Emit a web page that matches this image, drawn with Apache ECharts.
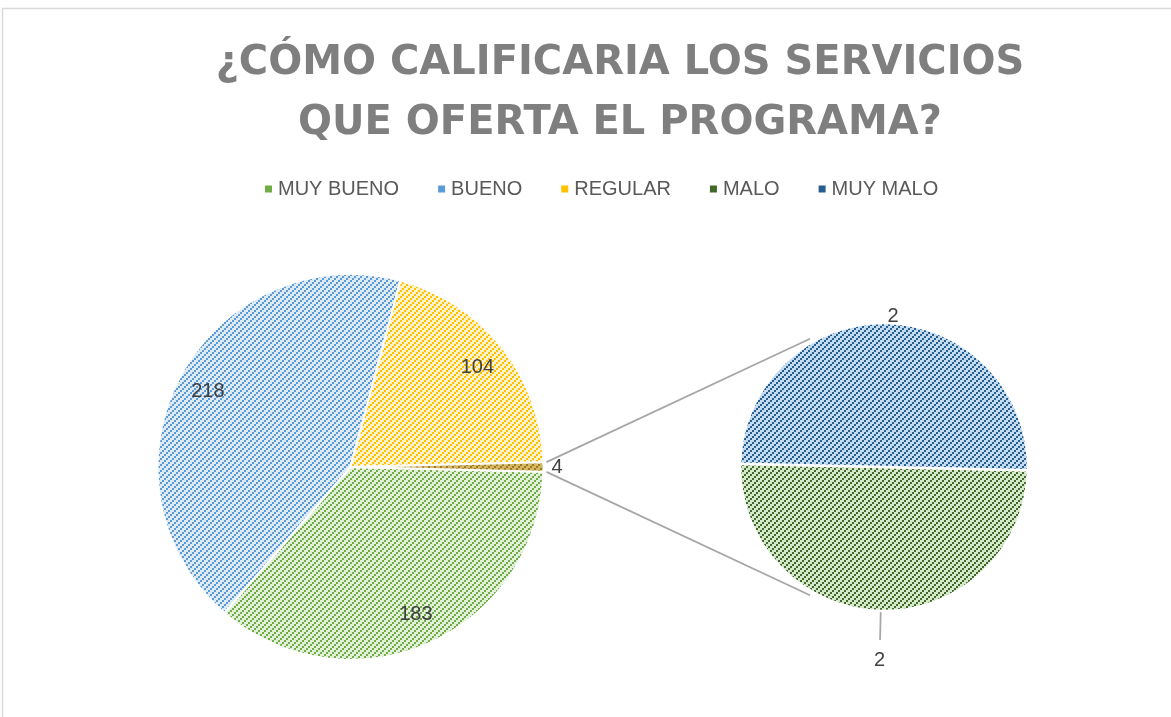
<!DOCTYPE html>
<html>
<head>
<meta charset="utf-8">
<title>Servicios del programa</title>
<script src="https://cdn.jsdelivr.net/npm/echarts@6/dist/echarts.min.js"></script>
<style>
  html, body { margin: 0; padding: 0; background: #fff; }
  #chart { width: 1171px; height: 717px; }
</style>
</head>
<body>
<div id="chart"></div>
<script>
// datos
var titleText = '¿CÓMO CALIFICARIA LOS SERVICIOS\nQUE OFERTA EL PROGRAMA?';
var legendNames = ['MUY BUENO', 'BUENO', 'REGULAR', 'MALO', 'MUY MALO'];
var mainNames = ['MUY BUENO', 'BUENO', 'REGULAR'];
var mainValues = [183, 218, 104];
var otherName = 'Otros';
var subNames = ['MALO', 'MUY MALO'];
var subValues = [2, 2];

// geometria
var mainCenter = [350.5, 467];
var mainR = 193;
var subCenter = [884, 467];
var subR = 144;
var subStart = -1.3;

// colores: [linea, fondo]
var fillColors = {
	'MUY BUENO': ['#70ad47', '#e2f0d9'],
	'BUENO': ['#5b9bd5', '#deebf7'],
	'REGULAR': ['#ffc000', '#fff2cc'],
	'Otros': ['#9c7a1e', '#d6b765'],
	'MALO': ['#43682b', '#d5e8c9'],
	'MUY MALO': ['#255e91', '#c5dcf0']
};

// trama diagonal tipo excel (bloques de 2x2)
function hatch(fg, bg) {
	var c = document.createElement('canvas');
	c.width = 6;
	c.height = 6;
	var ctx = c.getContext('2d');
	ctx.fillStyle = bg;
	ctx.fillRect(0, 0, 6, 6);
	ctx.fillStyle = fg;
	for (var y = 0; y < 6; y++) {
		for (var x = 0; x < 6; x++) {
			if ((Math.floor(x / 2) + Math.floor(y / 2)) % 3 === 0) ctx.fillRect(x, y, 1, 1);
		}
	}
	return { image: c, repeat: 'repeat' };
}

var fills = {};
for (var k in fillColors) fills[k] = hatch(fillColors[k][0], fillColors[k][1]);

var otherValue = 0;
for (var i = 0; i < subValues.length; i++) otherValue += subValues[i];
var total = otherValue;
for (var i = 0; i < mainValues.length; i++) total += mainValues[i];
var otherAngle = otherValue / total * 360;
var mainStart = -otherAngle / 2;

var mainData = [];
var ringData = [];
for (var i = 0; i < mainNames.length; i++) {
	mainData.push({ name: mainNames[i], value: mainValues[i], itemStyle: { color: fills[mainNames[i]] } });
	ringData.push({ name: mainNames[i], value: mainValues[i] });
}
mainData.push({
	name: otherName, value: otherValue,
	itemStyle: { color: fills[otherName] },
	label: { show: true, position: 'outside', distanceToLabelLine: 5 },
	labelLine: { show: false, length: 3, length2: 0 }
});
ringData.push({ name: otherName, value: otherValue, label: { show: false } });

var subData = [];
var subRingData = [];
for (var i = 0; i < subNames.length; i++) {
	subData.push({ name: subNames[i], value: subValues[i], itemStyle: { color: fills[subNames[i]] } });
	subRingData.push({ name: subNames[i], value: subValues[i] });
}
// MUY MALO arriba, pegado al borde
subData[0].label = { show: false };
subData[1].label = { show: true, position: 'outside', distanceToLabelLine: 0 };
subData[1].labelLine = { show: false, length: 7, length2: 0 };
// MALO abajo, debajo de la linea guia
subRingData[1].label = { show: false };

var legendData = [];
for (var i = 0; i < legendNames.length; i++) {
	legendData.push({ name: legendNames[i], itemStyle: { color: fillColors[legendNames[i]][0] } });
}

function pt(c, r, deg) {
	var a = deg * Math.PI / 180;
	return [c[0] + r * Math.cos(a), c[1] + r * Math.sin(a)];
}
// lineas de union entre las dos tortas
var half = otherAngle / 2;
var p1 = pt(mainCenter, mainR + 3, -half);
var p2 = pt(subCenter, subR + 4, 240);
var p3 = pt(mainCenter, mainR + 3, half);
var p4 = pt(subCenter, subR + 4, 120);
// linea guia de MALO (angulo medio del primer sector)
var subTotal = subValues[0] + subValues[1];
var maloMid = -subStart + subValues[0] / subTotal * 180;
var g1 = pt(subCenter, subR + 1, maloMid);
var g2 = pt(subCenter, subR + 29, maloMid);

var labelFont = { fontFamily: 'Liberation Sans', fontSize: 20, color: '#404040' };
var lineStyle = { stroke: '#a6a6a6', lineWidth: 1.75 };

var myChart = echarts.init(document.getElementById('chart'));

var option = {
	animation: false,
	title: {
		text: titleText,
		left: 620,
		top: 34,
		padding: 0,
		textAlign: 'center',
		textStyle: {
			fontFamily: 'DejaVu Sans',
			fontWeight: 'bold',
			fontSize: 40,
			lineHeight: 60,
			color: '#7f7f7f'
		}
	},
	legend: {
		data: legendData,
		left: 258,
		top: 173,
		itemWidth: 9,
		itemHeight: 9,
		itemGap: 37,
		icon: 'rect',
		selectedMode: false,
		textStyle: { fontFamily: 'Liberation Sans', fontSize: 20, color: '#595959', lineHeight: 22 }
	},
	graphic: [
		{ type: 'rect', silent: true, shape: { x: 2.5, y: 8.5, width: 1300, height: 800 },
		  style: { fill: 'none', stroke: '#d9d9d9', lineWidth: 1.5 } },
		{ type: 'line', silent: true, shape: { x1: p1[0], y1: p1[1], x2: p2[0], y2: p2[1] }, style: lineStyle },
		{ type: 'line', silent: true, shape: { x1: p3[0], y1: p3[1], x2: p4[0], y2: p4[1] }, style: lineStyle },
		{ type: 'line', silent: true, shape: { x1: g1[0], y1: g1[1], x2: g2[0], y2: g2[1] }, style: lineStyle }
	],
	series: [
		{
			name: 'principal',
			type: 'pie',
			center: mainCenter,
			radius: [0, mainR],
			startAngle: mainStart,
			clockwise: true,
			avoidLabelOverlap: false,
			silent: true,
			itemStyle: { borderColor: '#fff', borderWidth: 2 },
			label: Object.assign({ show: false, formatter: '{c}' }, labelFont),
			data: mainData
		},
		{
			// anillo transparente: etiquetas a ~0.82 del radio
			name: 'etiquetas',
			type: 'pie',
			center: mainCenter,
			radius: [124, mainR],
			startAngle: mainStart,
			clockwise: true,
			avoidLabelOverlap: false,
			silent: true,
			itemStyle: { color: 'rgba(0,0,0,0)', borderWidth: 0 },
			label: Object.assign({ show: true, position: 'inside', formatter: '{c}' }, labelFont),
			labelLine: { show: false },
			data: ringData
		},
		{
			name: 'secundaria',
			type: 'pie',
			center: subCenter,
			radius: [0, subR],
			startAngle: subStart,
			clockwise: true,
			avoidLabelOverlap: false,
			silent: true,
			itemStyle: { borderColor: '#fff', borderWidth: 2.5 },
			label: Object.assign({ show: true, formatter: '{c}' }, labelFont),
			data: subData
		},
		{
			// anillo transparente fuera de la torta chica: etiqueta de MALO
			name: 'etiquetas2',
			type: 'pie',
			center: subCenter,
			radius: [subR, subR + 94],
			startAngle: subStart,
			clockwise: true,
			avoidLabelOverlap: false,
			silent: true,
			itemStyle: { color: 'rgba(0,0,0,0)', borderWidth: 0 },
			label: Object.assign({ show: true, position: 'inside', formatter: '{c}' }, labelFont),
			labelLine: { show: false },
			data: subRingData
		}
	]
};

myChart.setOption(option);
</script>
</body>
</html>
